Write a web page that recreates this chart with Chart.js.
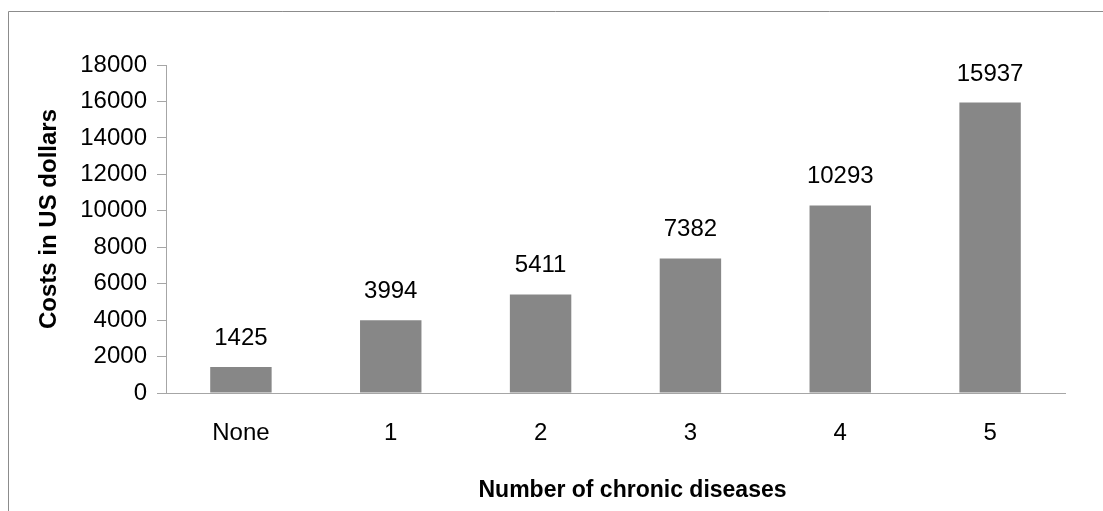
<!DOCTYPE html>
<html>
<head>
<meta charset="utf-8">
<script src="https://cdn.jsdelivr.net/npm/chart.js@4/dist/chart.umd.min.js"></script>
<style>
  html, body { margin: 0; padding: 0; background: #fff; }
  #wrap { width: 1103px; height: 511px; position: relative; }
</style>
</head>
<body>
<div id="wrap"><canvas id="c" width="1103" height="511"></canvas></div>
<script>
const categories = ['None', '1', '2', '3', '4', '5'];
const costs = [1425, 3994, 5411, 7382, 10293, 15937];
const yTicks = [0, 2000, 4000, 6000, 8000, 10000, 12000, 14000, 16000, 18000];
const xTitle = 'Number of chronic diseases';
const yTitle = 'Costs in US dollars';

const FONT = "'Liberation Sans', Arial, sans-serif";
const AXIS_GRAY = '#a6a6a6';

// Frame lines along the top and left of the canvas
const framePlugin = {
  id: 'frame',
  beforeDraw(chart) {
    const ctx = chart.ctx;
    ctx.save();
    ctx.strokeStyle = '#8c8c8c';
    ctx.lineWidth = 1;
    ctx.beginPath();
    ctx.moveTo(8.5, chart.height);
    ctx.lineTo(8.5, 11.5);
    ctx.lineTo(chart.width, 11.5);
    ctx.stroke();
    ctx.restore();
  }
};

// Value labels above each bar
const valueLabels = {
  id: 'valueLabels',
  afterDatasetsDraw(chart) {
    const ctx = chart.ctx;
    const meta = chart.getDatasetMeta(0);
    ctx.save();
    ctx.font = '24px ' + FONT;
    ctx.fillStyle = '#000';
    ctx.textAlign = 'center';
    ctx.textBaseline = 'alphabetic';
    meta.data.forEach((bar, i) => {
      const v = chart.data.datasets[0].data[i];
      ctx.fillText(String(v), bar.x, bar.y - 22);
    });
    ctx.restore();
  }
};

// Axis titles, placed relative to the chart area
const axisTitles = {
  id: 'axisTitles',
  afterDraw(chart) {
    const ctx = chart.ctx;
    const area = chart.chartArea;
    ctx.save();
    ctx.fillStyle = '#000';
    ctx.textAlign = 'center';
    ctx.textBaseline = 'alphabetic';
    ctx.font = 'bold 23px ' + FONT;
    ctx.fillText(xTitle, (area.left + area.right) / 2 + 17, 497);
    ctx.translate(56, area.top + (area.bottom - area.top) / 2 - 10);
    ctx.rotate(-Math.PI / 2);
    ctx.font = 'bold 24px ' + FONT;
    ctx.fillText(yTitle, 0, 0);
    ctx.restore();
  }
};

new Chart(document.getElementById('c'), {
  type: 'bar',
  data: {
    labels: categories,
    datasets: [{
      data: costs,
      backgroundColor: '#878787',
      borderWidth: 0,
      barPercentage: 0.41,
      categoryPercentage: 1
    }]
  },
  options: {
    responsive: false,
    animation: false,
    events: [],
    layout: { padding: { left: 10, right: 38, top: 65, bottom: 0 } },
    plugins: { legend: { display: false }, tooltip: { enabled: false } },
    scales: {
      x: {
        grid: { display: true, drawOnChartArea: false, drawTicks: false, color: AXIS_GRAY },
        border: { display: true, color: AXIS_GRAY, width: 1 },
        ticks: { color: '#000', font: { family: FONT, size: 24 }, padding: 26, maxRotation: 0 },
        afterFit(scale) { scale.height = 118; }
      },
      y: {
        min: 0,
        max: 18000,
        afterBuildTicks(scale) { scale.ticks = yTicks.map(v => ({ value: v })); },
        grid: { display: true, drawOnChartArea: false, drawTicks: true, tickLength: 9, color: AXIS_GRAY },
        border: { display: true, color: AXIS_GRAY, width: 1 },
        ticks: {
          color: '#000',
          font: { family: FONT, size: 24 },
          padding: 10,
          callback: v => String(v)
        },
        afterFit(scale) { scale.width = 156; }
      }
    }
  },
  plugins: [framePlugin, valueLabels, axisTitles]
});
</script>
</body>
</html>
